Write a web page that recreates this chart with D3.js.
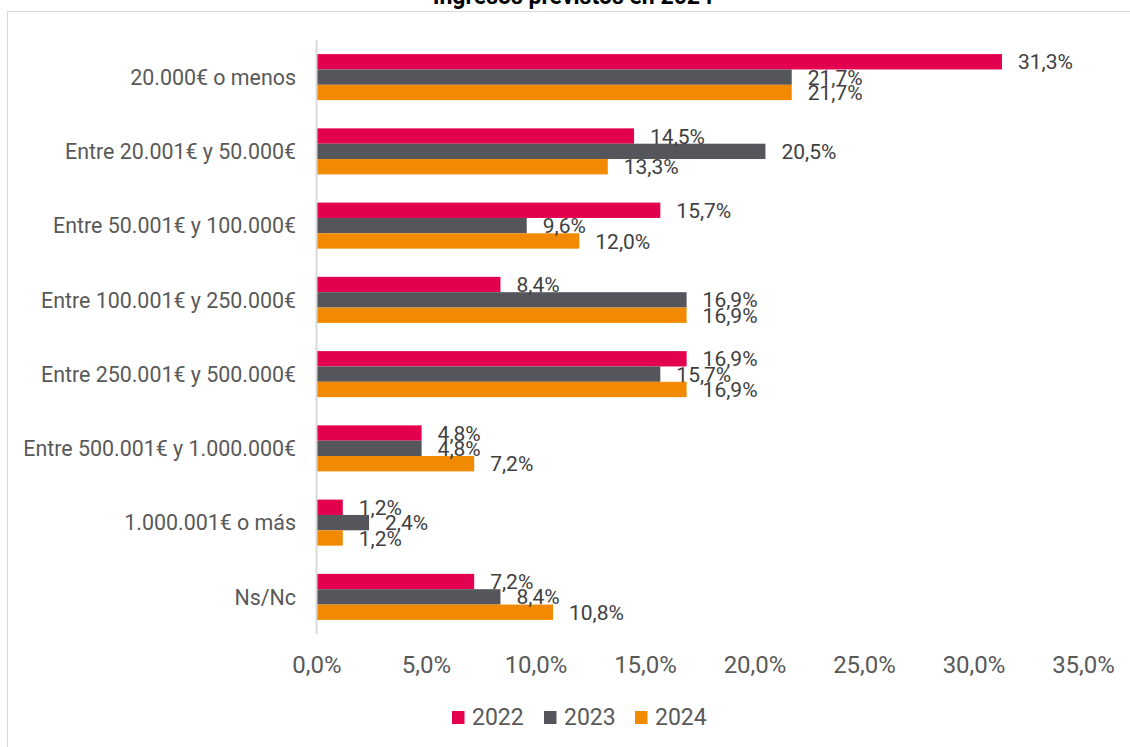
<!DOCTYPE html>
<meta charset="utf-8">
<style>
body { margin: 0; background: #fff; }
svg { font-family: Roboto, "Noto Sans", sans-serif; }
.tick text { fill: #595959; }
</style>
<body>
<script src="https://cdn.jsdelivr.net/npm/d3@7"></script>
<script>

// data (percent)
var categories = ["20.000€ o menos", "Entre 20.001€ y 50.000€", "Entre 50.001€ y 100.000€",
  "Entre 100.001€ y 250.000€", "Entre 250.001€ y 500.000€", "Entre 500.001€ y 1.000.000€",
  "1.000.001€ o más", "Ns/Nc"];
var years = ["2022", "2023", "2024"];
var v2022 = [31.3, 14.5, 15.7, 8.4, 16.9, 4.8, 1.2, 7.2];
var v2023 = [21.7, 20.5, 9.6, 16.9, 15.7, 4.8, 2.4, 8.4];
var v2024 = [21.7, 13.3, 12.0, 16.9, 16.9, 7.2, 1.2, 10.8];
var xTicks = [0, 5, 10, 15, 20, 25, 30, 35];
var colors = ["#e3004f", "#55565b", "#f18a00"];

var series = [v2022, v2023, v2024];

var width = 1130, height = 747;

var es = d3.formatLocale({decimal: ",", thousands: ".", grouping: [3], currency: ["", "€"]});
var fmt = function(d) { return es.format(".1f")(d) + "%"; };

var x = d3.scaleLinear()
    .domain([0, 35])
    .range([316.5, 1083]);

var y = d3.scaleBand()
    .domain(categories)
    .range([40, 634])
    .paddingInner(0.38)
    .paddingOuter(0.19);

var yInner = d3.scaleBand()
    .domain(years)
    .range([0, y.bandwidth()]);

var svg = d3.select("body").append("svg")
    .attr("width", width)
    .attr("height", height);

// chart frame, runs off the page on right and bottom
svg.append("rect")
    .attr("x", 7.5)
    .attr("y", 11.5)
    .attr("width", 1200)
    .attr("height", 800)
    .attr("fill", "none")
    .attr("stroke", "#d9d9d9");

// title (clipped at top in the original)
svg.append("text")
    .attr("x", 573)
    .attr("y", 4)
    .attr("text-anchor", "middle")
    .style("font-size", "23px")
    .style("font-weight", "bold")
    .attr("fill", "#000")
    .text("Ingresos previstos en 2024");

// bars
var groups = svg.append("g")
  .selectAll("g")
    .data(categories)
  .enter().append("g")
    .attr("transform", function(d) { return "translate(0," + y(d) + ")"; });

groups.selectAll("rect")
    .data(function(d, i) { return series.map(function(s, k) { return {year: years[k], value: s[i], k: k}; }); })
  .enter().append("rect")
    .attr("x", x(0))
    .attr("y", function(d) { return yInner(d.year); })
    .attr("width", function(d) { return x(d.value) - x(0); })
    .attr("height", yInner.bandwidth())
    .attr("fill", function(d) { return colors[d.k]; });

groups.selectAll("text.val")
    .data(function(d, i) { return series.map(function(s, k) { return {year: years[k], value: s[i], k: k}; }); })
  .enter().append("text")
    .attr("class", "val")
    .attr("x", function(d) { return x(d.value) + 16; })
    .attr("y", function(d) { return yInner(d.year) + yInner.bandwidth() / 2; })
    .attr("dy", "0.36em")
    .style("font-size", "21px")
    .attr("fill", "#404040")
    .text(function(d) { return fmt(d.value); });

// vertical axis line
svg.append("line")
    .attr("x1", x(0))
    .attr("x2", x(0))
    .attr("y1", 40)
    .attr("y2", 634)
    .attr("stroke", "#d9d9d9")
    .attr("stroke-width", 2);

// category labels
svg.append("g")
  .selectAll("text")
    .data(categories)
  .enter().append("text")
    .attr("x", 296)
    .attr("y", function(d) { return y(d) + y.bandwidth() / 2; })
    .attr("dy", "0.36em")
    .attr("text-anchor", "end")
    .style("font-size", "21.4px")
    .attr("fill", "#595959")
    .text(function(d) { return d; });

// x axis
var xAxis = svg.append("g")
    .attr("transform", "translate(0,651)")
    .call(d3.axisBottom(x).tickValues(xTicks).tickSize(0).tickFormat(fmt));
xAxis.select(".domain").remove();
xAxis.selectAll("text")
    .attr("dy", 0)
    .attr("y", 22)
    .style("font-size", "24px")
    .style("font-family", "Roboto");

// legend
var legendX = [452, 544, 635];
var legend = svg.append("g")
  .selectAll("g")
    .data(years)
  .enter().append("g")
    .attr("transform", function(d, i) { return "translate(" + legendX[i] + ",711)"; });

legend.append("rect")
    .attr("width", 12.5)
    .attr("height", 13)
    .attr("fill", function(d, i) { return colors[i]; });

legend.append("text")
    .attr("x", 20)
    .attr("y", 13.5)
    .style("font-size", "23px")
    .attr("fill", "#595959")
    .text(function(d) { return d; });

</script>
